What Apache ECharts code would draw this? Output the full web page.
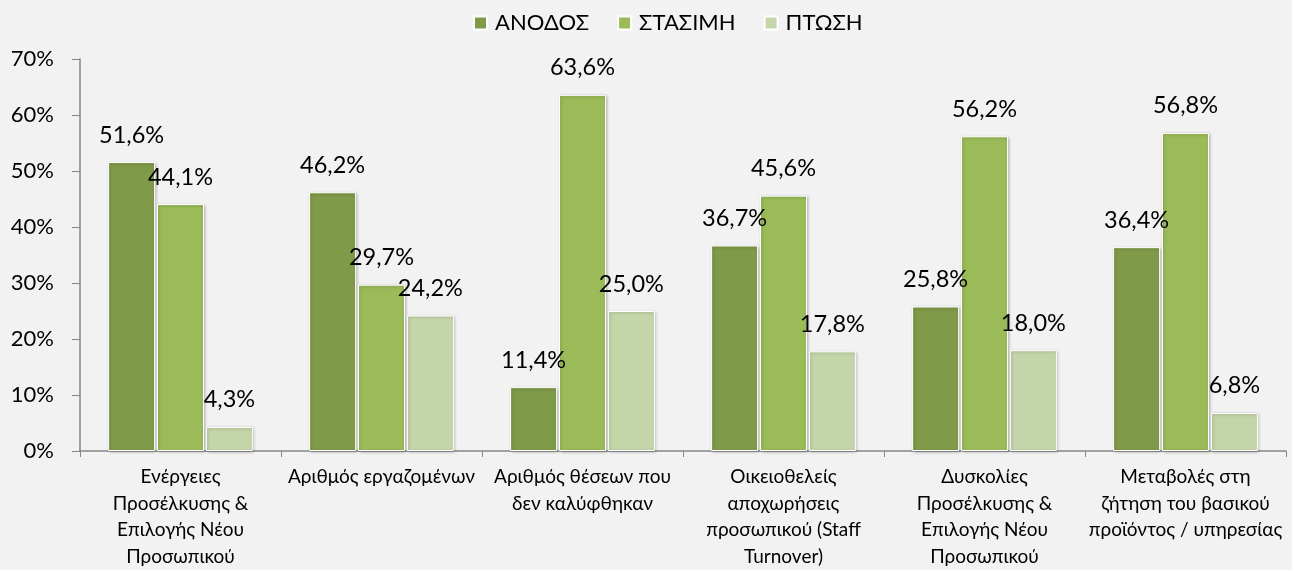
<!DOCTYPE html>
<html><head><meta charset="utf-8">
<script src="https://cdn.jsdelivr.net/npm/echarts@6/dist/echarts.min.js"></script>
<style>html,body{margin:0;padding:0;background:#f2f2f2}#c{width:1292px;height:570px}</style>
</head><body><div id="c"></div>
<script>
const categories = [
  "Ενέργειες\nΠροσέλκυσης &\nΕπιλογής Νέου\nΠροσωπικού",
  "Αριθμός εργαζομένων",
  "Αριθμός θέσεων που\nδεν καλύφθηκαν",
  "Οικειοθελείς\nαποχωρήσεις\nπροσωπικού (Staff\nTurnover)",
  "Δυσκολίες\nΠροσέλκυσης &\nΕπιλογής Νέου\nΠροσωπικού",
  "Μεταβολές στη\nζήτηση του βασικού\nπροϊόντος / υπηρεσίας"
];
const seriesNames = ["ΑΝΟΔΟΣ", "ΣΤΑΣΙΜΗ", "ΠΤΩΣΗ"];
const anodos = [51.6, 46.2, 11.4, 36.7, 25.8, 36.4];
const stasimi = [44.1, 29.7, 63.6, 45.6, 56.2, 56.8];
const ptosi = [4.3, 24.2, 25.0, 17.8, 18.0, 6.8];
const colors = ["#7f9a48", "#9bbb59", "#c4d6a9"];
const FONT = "Lato, 'Open Sans', sans-serif";

const chart = echarts.init(document.getElementById('c'));
const mk = (name, data, color) => ({
  name, type: 'bar', data,
  barWidth: 47, barGap: '4%',
  itemStyle: { color, borderColor: '#ffffff', borderWidth: 1,
    shadowColor: 'rgba(0,0,0,0.25)', shadowBlur: 3, shadowOffsetX: 1, shadowOffsetY: 1 },
  label: { show: true, position: 'top', distance: 15, color: '#000', fontFamily: FONT, fontSize: 23.5,
    formatter: p => p.value.toFixed(1).replace('.', ',') + '%' }
});
chart.setOption({
  backgroundColor: '#f2f2f2',
  animation: false,
  legend: { top: 7, left: 468, itemWidth: 13, itemHeight: 13, itemGap: 28,
    icon: 'rect', textStyle: { fontFamily: FONT, fontSize: 22, color: '#000', padding: [0, 0, 0, 3] } },
  grid: { left: 80, right: 6, top: 59, bottom: 118 },
  xAxis: { type: 'category', data: categories,
    axisLine: { lineStyle: { color: '#868686', width: 1.5 } },
    axisTick: { show: true, length: 6, lineStyle: { color: '#868686' } },
    axisLabel: { interval: 0, color: '#000', fontFamily: FONT, fontSize: 19, lineHeight: 26.5, margin: 13 } },
  yAxis: { type: 'value', min: 0, max: 70, interval: 10,
    axisLine: { show: true, lineStyle: { color: '#868686', width: 1.5 } },
    axisTick: { show: true, length: 8, lineStyle: { color: '#868686' } },
    splitLine: { show: false },
    axisLabel: { formatter: '{value}%', color: '#000', fontFamily: FONT, fontSize: 22, margin: 26 } },
  series: [mk(seriesNames[0], anodos, colors[0]), mk(seriesNames[1], stasimi, colors[1]), mk(seriesNames[2], ptosi, colors[2])]
});
</script></body></html>
